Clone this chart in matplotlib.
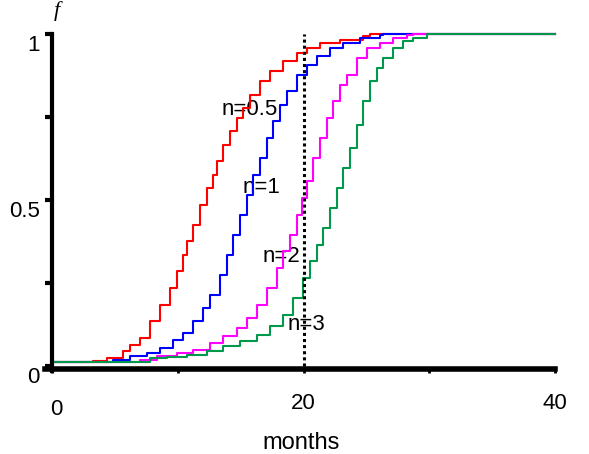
import numpy as np
import matplotlib
matplotlib.use("Agg")
import matplotlib.pyplot as plt
import matplotlib.transforms as mtransforms

plt.rcParams['font.family'] = ['Liberation Sans', 'DejaVu Sans']

# cumulative fraction f vs. time in months, one staircase per exponent n
x_n05 = [0, 3.28, 4.35, 5.65, 6.2, 6.99, 7.79, 8.59, 9.38, 9.92, 10.42, 10.71, 11.21,
         11.77, 12.3, 12.8, 13.1, 13.6, 14.16, 14.69, 15.19, 15.75, 16.54, 17.34,
         18.37, 19.46, 20.25, 21.31, 22.9, 24.73, 25.29, 40]
f_n05 = [0.012, 0.014, 0.024, 0.045, 0.064, 0.084, 0.136, 0.184, 0.235, 0.286, 0.335,
         0.377, 0.426, 0.486, 0.536, 0.576, 0.617, 0.667, 0.708, 0.747, 0.777, 0.817,
         0.858, 0.889, 0.919, 0.943, 0.958, 0.973, 0.983, 0.994, 1.0, 1.0]

x_n1 = [0, 4.87, 6.2, 7.53, 8.59, 9.62, 10.42, 11.21, 12.01, 12.56, 13.36, 13.89,
        14.39, 14.95, 15.48, 15.98, 16.54, 17.07, 17.57, 18.13, 18.66, 19.46, 20.25,
        21.05, 22.11, 23.14, 24.49, 26.08, 26.32, 40]
f_n1 = [0.012, 0.017, 0.030, 0.039, 0.054, 0.079, 0.099, 0.136, 0.175, 0.215, 0.275,
        0.335, 0.395, 0.456, 0.516, 0.576, 0.627, 0.687, 0.738, 0.787, 0.828, 0.877,
        0.908, 0.933, 0.958, 0.973, 0.988, 0.998, 1.0, 1.0]

x_n2 = [0, 7.0, 8.33, 9.92, 11.21, 12.56, 13.6, 14.69, 15.48, 16.28, 17.07, 17.87,
        18.37, 18.93, 19.46, 19.86, 20.25, 20.76, 21.31, 21.85, 22.35, 22.9, 23.44,
        24.23, 25.02, 26.08, 27.12, 28.21, 28.71, 40]
f_n2 = [0.012, 0.019, 0.030, 0.039, 0.049, 0.069, 0.090, 0.114, 0.145, 0.185, 0.235,
        0.295, 0.346, 0.395, 0.456, 0.506, 0.557, 0.627, 0.687, 0.747, 0.798, 0.847,
        0.877, 0.928, 0.958, 0.973, 0.988, 0.998, 1.0, 1.0]

x_n3 = [0, 7.79, 9.12, 10.71, 12.3, 13.6, 14.95, 16.28, 17.34, 18.37, 19.17, 19.96,
        20.52, 21.05, 21.55, 22.11, 22.64, 23.14, 23.7, 24.23, 24.73, 25.29, 25.82,
        26.32, 27.12, 27.91, 28.71, 29.82, 40]
f_n3 = [0.012, 0.024, 0.026, 0.034, 0.044, 0.059, 0.074, 0.094, 0.120, 0.155, 0.205,
        0.265, 0.316, 0.365, 0.416, 0.476, 0.536, 0.596, 0.657, 0.727, 0.798, 0.858,
        0.898, 0.928, 0.958, 0.978, 0.988, 1.0, 1.0]

labels = ['n=0.5', 'n=1', 'n=2', 'n=3']
label_pos = [(15.75, 0.772), (16.68, 0.538), (18.27, 0.330), (20.25, 0.124)]
cutoff = 20

fig = plt.figure(figsize=(5.89, 4.54), dpi=100)
ax = fig.add_axes([0.0756, 0.1866, 0.871, 0.7386])

for txt, (tx, ty) in zip(labels, label_pos):
    ax.text(tx, ty, txt, fontsize=16, ha='center', va='center', zorder=1)

curves = [(x_n05, f_n05, '#ff0000'), (x_n1, f_n1, '#0000ff'),
          (x_n2, f_n2, '#ff00ff'), (x_n3, f_n3, '#00994c')]
for xs, fs, c in curves:
    ax.plot(xs, fs, drawstyle='steps-post', color=c, lw=1.5, clip_on=False, zorder=2)

ax.plot([cutoff, cutoff], [0, 1], color='black', lw=2.2, ls=(0, (1, 1)),
        clip_on=False, zorder=3)

ax.set_xlim(-0.6, 40.2)
ax.set_ylim(-0.01, 1.0)

for s in ['top', 'right']:
    ax.spines[s].set_visible(False)
ax.spines['left'].set_position(('data', 0))
ax.spines['left'].set_linewidth(3)
ax.spines['left'].set_bounds(-0.015, 1)
ax.spines['bottom'].set_linewidth(4)
ax.spines['bottom'].set_bounds(-0.6, 40)

ax.set_yticks([0, 0.25, 0.5, 0.75, 1], labels=['0', '', '0.5', '', '1'])
ax.set_xticks([0, 10, 20, 30, 40], labels=['0', '', '20', '', '40'])
ax.tick_params(axis='y', length=5, width=3, pad=4, labelsize=16)
ax.tick_params(axis='x', length=3, width=2, pad=14, labelsize=16)

# nudge the y tick labels a little below their ticks
shift = mtransforms.ScaledTranslation(0, -9 / 100, fig.dpi_scale_trans)
for lab in ax.get_yticklabels():
    lab.set_transform(lab.get_transform() + shift)
# the zero on the x axis sits a bit lower and to the right
xlab0 = ax.get_xticklabels()[0]
xlab0.set_transform(xlab0.get_transform() +
                    mtransforms.ScaledTranslation(4 / 100, -6 / 100, fig.dpi_scale_trans))

ax.set_xlabel('months', fontsize=17, labelpad=9)
ax.text(0.4, 1.07, 'f', fontsize=16, style='italic', family='Liberation Serif',
        ha='center', va='center', clip_on=False)

fig.savefig('out.png', dpi=100)
